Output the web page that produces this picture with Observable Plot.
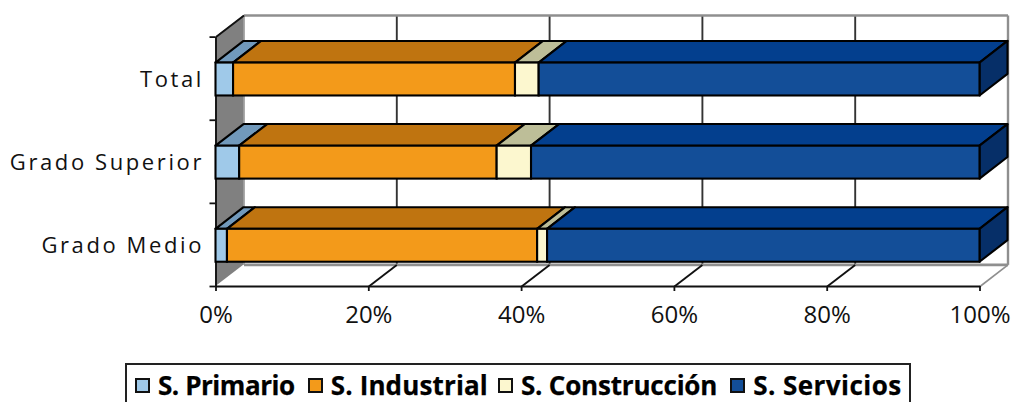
<!DOCTYPE html>
<html>
<head>
<meta charset="utf-8">
<script src="https://cdn.jsdelivr.net/npm/d3@7"></script>
<script src="https://cdn.jsdelivr.net/npm/@observablehq/plot@0.6"></script>
<style>
html,body{margin:0;padding:0;background:#fff;overflow:hidden;}
svg{display:block;}
[aria-label="y-axis tick label"] text{letter-spacing:2.6px;}
#legend{box-sizing:border-box;margin:13px 0 0 125px;width:786px;height:39px;border:2px solid #222;border-bottom:none;
  display:flex;align-items:center;padding:3px 0 0 8px;font:bold 26px "Open Sans";color:#000;white-space:nowrap;-webkit-text-stroke:0.25px #000;}
#legend .sw{display:inline-block;box-sizing:border-box;width:15px;height:15px;border:2px solid #111;margin-right:8px;}
#legend .it{display:inline-flex;align-items:center;}
</style>
</head>
<body>
<div id="chart"></div>
<div id="legend"></div>
<script>
const categories = ["Grado Medio", "Grado Superior", "Total"];
const seriesNames = ["S. Primario", "S. Industrial", "S. Construcción", "S. Servicios"];
const primario = [1.5, 3.1, 2.3];
const industrial = [40.6, 33.7, 36.9];
const construccion = [1.3, 4.5, 3.1];
const servicios = [56.6, 58.7, 57.7];
const frontColors = ["#9fc9e9", "#f39a1a", "#fcf7cf", "#134e98"];
const topColors = ["#7199bb", "#bf7410", "#bdbe98", "#033f8e"];
const sideColor = "#062f68";
const xTicks = [0, 20, 40, 60, 80, 100];
const legendTracking = [-0.45, 0.15, -0.2, 0.45];
const legendGaps = [13, 10, 13, 0];

const seriesValues = [primario, industrial, construccion, servicios];
const depthX = 3.665, depthY = 0.26, halfBar = 0.198, center = 0.49;
const rows = [];
categories.forEach((c, i) => {
  let acc = 0;
  seriesValues.forEach((vals, s) => {
    rows.push({cat: i, s, x1: acc, x2: acc + vals[i], yc: i + center});
    acc += vals[i];
  });
});
const slant = (r) => [
  {k: r.cat + "-" + r.s, y: r.yc + halfBar, x1: r.x1, x2: r.x2},
  {k: r.cat + "-" + r.s, y: r.yc + halfBar + depthY, x1: r.x1 + depthX, x2: r.x2 + depthX}
];
const ink = "#000", bw = 2.1;
const yTop = 3 + depthY;

const topMarks = seriesValues.map((_, s) =>
  Plot.areaX(rows.filter(r => r.s === s).flatMap(slant), {
    y: "y", x1: "x1", x2: "x2", z: "k", fill: topColors[s], stroke: ink, strokeWidth: bw, strokeLinejoin: "round"
  }));
const frontMarks = seriesValues.map((_, s) =>
  Plot.rect(rows.filter(r => r.s === s), {
    x1: "x1", x2: "x2", y1: r => r.yc - halfBar, y2: r => r.yc + halfBar,
    fill: frontColors[s], stroke: ink, strokeWidth: bw, inset: 0
  }));
const sideData = rows.filter(r => r.s === 3).flatMap(r => [
  {k: r.cat, x: 100, y1: r.yc - halfBar, y2: r.yc + halfBar},
  {k: r.cat, x: 100 + depthX, y1: r.yc - halfBar + depthY, y2: r.yc + halfBar + depthY}
]);

const plot = Plot.plot({
  width: 1013, height: 350,
  marginLeft: 215.5, marginRight: 5.5, marginTop: 15, marginBottom: 64,
  x: {domain: [0, 100 + depthX], range: [215.5, 1007.5], axis: null},
  y: {domain: [0, yTop], range: [286, 15], axis: null},
  style: {fontFamily: "'Open Sans'", background: "#fff", color: "#111", overflow: "visible"},
  marks: [
    // left wall
    Plot.areaY([{x: 0, y1: 0, y2: 3}, {x: depthX, y1: depthY, y2: yTop}], {x: "x", y1: "y1", y2: "y2", fill: "#808080"}),
    // back-wall grid
    Plot.link(xTicks.slice(1, -1), {x1: d => d + depthX, x2: d => d + depthX, y1: depthY, y2: yTop, stroke: "#333", strokeWidth: 1.9}),
    // back wall and floor edges
    Plot.link([0], {x1: depthX, x2: 100 + depthX, y1: yTop, y2: yTop, stroke: "#8f8f8f", strokeWidth: 2.4}),
    Plot.link([0], {x1: 100 + depthX, x2: 100 + depthX, y1: depthY, y2: yTop, stroke: "#8f8f8f", strokeWidth: 2.4}),
    Plot.link([0], {x1: depthX, x2: depthX, y1: depthY, y2: yTop, stroke: "#8f8f8f", strokeWidth: 1.5}),
    Plot.link([0], {x1: depthX, x2: 100 + depthX, y1: depthY, y2: depthY, stroke: "#8f8f8f", strokeWidth: 2.6}),
    Plot.link([100], {x1: 100, x2: 100 + depthX, y1: 0, y2: depthY, stroke: "#8f8f8f", strokeWidth: 1.6}),
    // floor diagonals
    Plot.link(xTicks.slice(1, -1), {x1: d => d, x2: d => d + depthX, y1: 0, y2: depthY, stroke: "#111", strokeWidth: 1.9}),
    // axis lines
    Plot.link([0], {x1: 0, x2: 100, y1: 0, y2: 0, stroke: "#111", strokeWidth: 1.9}),
    Plot.link([0], {x1: 0, x2: 0, y1: 0, y2: 3, stroke: "#111", strokeWidth: 1.9}),
    Plot.link([0], {x1: 0, x2: depthX, y1: 3, y2: yTop, stroke: "#111", strokeWidth: 1.9}),
    // bars
    ...topMarks,
    Plot.areaY(sideData, {x: "x", y1: "y1", y2: "y2", z: "k", fill: sideColor, stroke: ink, strokeWidth: bw, strokeLinejoin: "round"}),
    ...frontMarks,
    // axes
    Plot.axisX({ticks: xTicks, tickFormat: d => d + "%", tickSize: 5, tickPadding: 14, stroke: "#111", strokeWidth: 1.8, fontSize: 24, fill: "#111", anchor: "bottom"}),
    Plot.axisY({ticks: [0, 1, 2, 3], tickFormat: () => "", tickSize: 6, stroke: "#111", strokeWidth: 1.8, anchor: "left"}),
    Plot.axisY({ticks: categories.map((_, i) => i + center), tickFormat: (d) => categories[Math.floor(d)], tickSize: 0, tickPadding: 12, fontSize: 22, fill: "#111", anchor: "left"})
  ]
});
document.getElementById("chart").appendChild(plot);

const legend = document.getElementById("legend");
seriesNames.forEach((n, i) => {
  const it = document.createElement("span"); it.className = "it";
  it.style.marginRight = legendGaps[i] + "px";
  const sw = document.createElement("span"); sw.className = "sw"; sw.style.background = frontColors[i];
  const tx = document.createElement("span"); tx.textContent = n; tx.style.letterSpacing = legendTracking[i] + "px";
  it.appendChild(sw); it.appendChild(tx);
  legend.appendChild(it);
});
</script>
</body>
</html>
